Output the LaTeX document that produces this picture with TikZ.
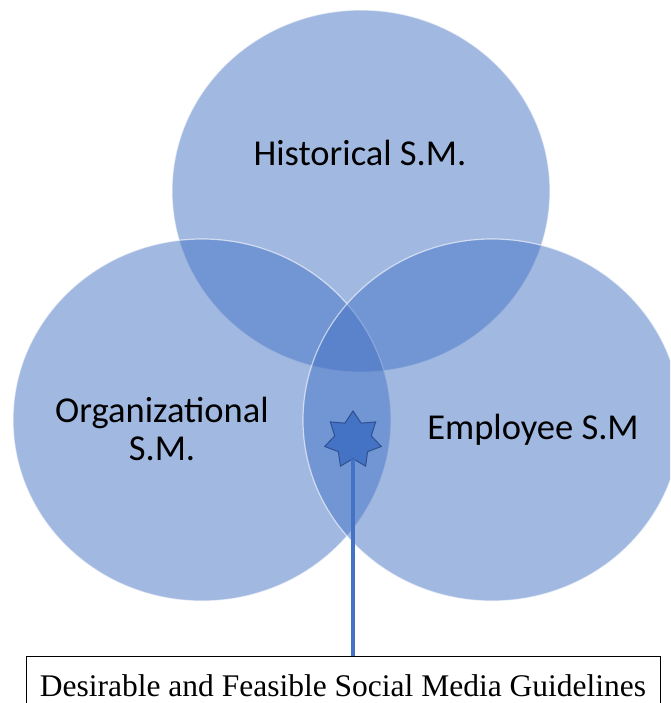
\documentclass[tikz,border=0pt]{standalone}
\usepackage{fontspec}
\setmainfont{Carlito}
\newfontfamily\guidefont{Liberation Serif}
\usetikzlibrary{shapes.geometric}
\definecolor{accent}{HTML}{4472C4}
\definecolor{accentdark}{HTML}{2F528F}
\begin{document}
\begin{tikzpicture}[x=1pt,y=-1pt,
  setdisc/.style={ellipse, minimum width=378pt, minimum height=362pt,
    inner sep=0pt, outer sep=0pt, fill=accent, fill opacity=0.5,
    draw=white, draw opacity=0.6, line width=1.2pt},
  setlabel/.style={font=\fontsize{36.5}{38}\selectfont, text=black,
    align=center, inner sep=0pt, text opacity=1},
  marker/.style={star, star points=7, star point ratio=1.55,
    minimum size=58pt, inner sep=0pt, fill=accent, draw=accentdark,
    line width=1pt},
  connector/.style={draw=accent, line width=4.5pt},
  guidebox/.style={draw=black, line width=0.9pt, fill=white,
    minimum width=634pt, minimum height=58pt, inner sep=0pt,
    font=\guidefont\fontsize{31.5}{33}\selectfont}]
\useasboundingbox (0,0) rectangle (670,703);
\begin{scope}
  \clip (0,0) rectangle (670,703);
  % the three overlapping sets
  \node[setdisc] (hist) at (361,191) {};
  \node[setdisc] (org)  at (202,420) {};
  \node[setdisc] (emp)  at (492,420) {};
  % set names
  \node[setlabel, anchor=base] (histlabel) at (360,166) {Historical S.M.};
  \node[setlabel] (orglabel) at (162,429) {Organizational\\S.M.};
  \node[setlabel, anchor=base] (emplabel) at (533,439) {Employee S.M};
  % marker in the common region and its callout
  \node[marker] (mark) at (353,440) {};
  \node[guidebox, anchor=north] (guide) at (343,656)
    {Desirable and Feasible Social Media Guidelines};
  \draw[connector] (mark.south) -- (mark.south |- guide.north);
\end{scope}
\end{tikzpicture}
\end{document}
